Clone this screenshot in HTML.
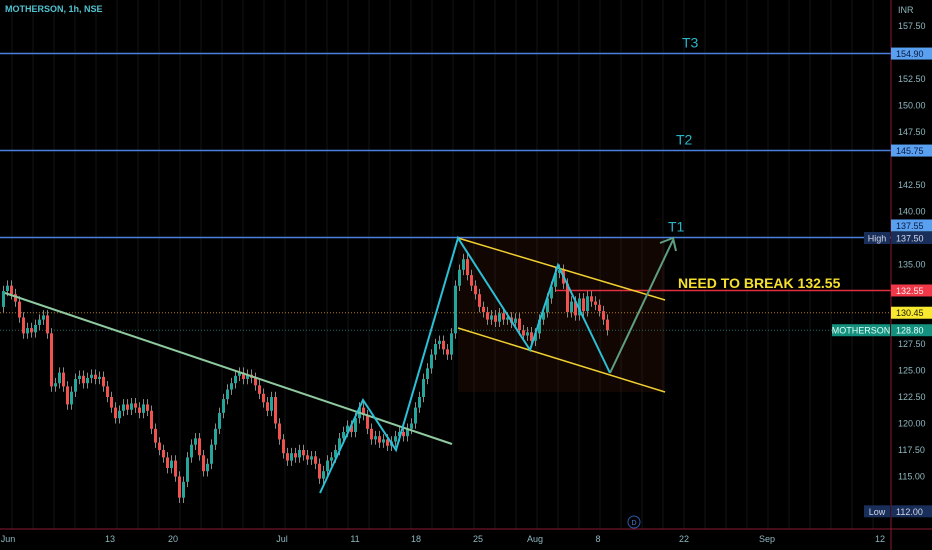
<!DOCTYPE html>
<html><head><meta charset="utf-8"><style>
html,body{margin:0;padding:0;background:#000;}
svg{display:block;font-family:"Liberation Sans",sans-serif;}
</style></head><body>
<svg id="chart" width="932" height="550" viewBox="0 0 932 550">
<rect width="932" height="550" fill="#000"/>
<g id="grid"></g>
<rect x="458" y="238" width="207" height="154" fill="rgba(70,25,10,0.25)"/>
<g id="levels"></g>
<g id="candles"></g>
<g id="drawings"></g>
<g id="axis"></g>
<g id="xaxis"></g>
<text x="5" y="12" font-size="9" font-weight="bold" fill="#4fc3d0">MOTHERSON, 1h, NSE</text>
<text x="898" y="13" font-size="9" fill="#8fb8c0">INR</text>
<circle cx="634" cy="522" r="6" fill="none" stroke="#2d5aa8" stroke-width="1"/>
<text x="634" y="525" font-size="7" fill="#4a80d0" text-anchor="middle">D</text>
</svg>
<script>
const closes=[132.5,133,132.2,131.5,130,128.5,129,128.6,129.3,129.8,130.2,128.5,123.5,123.8,124.8,123.5,121.8,123,124.2,124.5,123.8,124.3,124.6,124.2,124.4,123.5,122.5,121.5,120.5,121.2,121.8,121.3,121.9,121.5,121,121.8,121.2,119.5,118.2,117.5,116.8,115.8,116.5,115,113,114.5,116.8,118,118.6,117,115.5,116.2,118,119.5,121,122.3,123.2,123.8,124.5,124.8,124.2,124.6,124.3,123.6,122.8,122,121.2,122.5,120,118.5,117.2,116.5,117.2,116.8,117.5,117,116.6,116.9,116.2,114.8,115.5,116.5,116.8,117.5,118.6,119.2,119.8,119.2,120.5,121.5,120.8,119.5,118.5,118.8,118.2,118.5,117.9,118.3,118.8,119.2,118.8,119.5,120,121.5,122.5,124.2,125.2,126.5,127.5,127.8,127,126.5,128.5,133,134.5,135.5,134,133,132.2,131,130.5,129.8,130.2,129.6,130.4,129.8,130,129.5,129.9,128.8,128.3,128.6,127.8,128.5,129.8,130.5,131.8,132.9,134.2,134.5,133.2,130.5,131.5,130.2,131.8,130.6,132,131.5,131.2,130.6,129.8,128.8];
const priceTicks=["157.50","152.50","150.00","147.50","142.50","140.00","135.00","127.50","125.00","122.50","120.00","117.50","115.00"];
const timeLabels=["Jun","13","20","Jul","11","18","25","Aug","8","22","Sep","12"];
const timeX=[8,110,173,282,355,416,478,535,598,684,767,880];
const levelPrices=[154.90,145.75,137.55];
const levelNames=["T3","T2","T1"];
const NS="http://www.w3.org/2000/svg";
function y(p){return 26+(157.5-p)*10.6;}
function xi(i){return 2+i*4;}
function mk(tag,attrs,parent,txt){const e=document.createElementNS(NS,tag);for(const k in attrs)e.setAttribute(k,attrs[k]);if(txt!==undefined)e.textContent=txt;parent.appendChild(e);return e;}
const grid=document.getElementById('grid');
for(let gx=12;gx<891;gx+=21){const l=mk('line',{x1:gx,x2:gx,y1:0,y2:529,stroke:'#0f1418','stroke-width':1},grid);

}
const lv=document.getElementById('levels');
levelPrices.forEach((p,k)=>{const l=mk('line',{x1:0,x2:891,y1:y(p),y2:y(p),stroke:'#4a7fe0','stroke-width':1.5},lv);


const t=mk('text',{x:[682,676,668][k],y:y(p)-6,'font-size':14,fill:'#2bb5c8'},lv,levelNames[k]);

});
let e;
e=mk('line',{x1:0,x2:891,y1:y(130.45),y2:y(130.45),stroke:'#b07a20','stroke-width':1,'stroke-dasharray':'1 2'},lv);

e=mk('line',{x1:0,x2:891,y1:y(128.8),y2:y(128.8),stroke:'#1f6a60','stroke-width':1,'stroke-dasharray':'1 2'},lv);

e=mk('line',{x1:555,x2:891,y1:y(132.55),y2:y(132.55),stroke:'#e0303f','stroke-width':1.5},lv);

e=mk('line',{x1:0,x2:932,y1:529,y2:529,stroke:'#8a1a30','stroke-width':1},lv);

e=mk('line',{x1:891,x2:891,y1:0,y2:550,stroke:'#8a1a30','stroke-width':1},lv);

const cg=document.getElementById('candles');
closes.forEach((c,i)=>{const o=i?closes[i-1]:c-1.5;const up=c>=o;const col=up?'#26a69a':'#ef5350';
const hi=Math.max(o,c)+0.5,lo=Math.min(o,c)-0.5;const x=xi(i);
const w=mk('line',{x1:x+1.5,x2:x+1.5,y1:y(hi),y2:y(lo),stroke:'#8a8a8a','stroke-width':1},cg);


const b=mk('rect',{x:x,y:y(Math.max(o,c)),width:3,height:Math.max(1,Math.abs(y(o)-y(c))),fill:col},cg);

});
const dg=document.getElementById('drawings');
e=mk('line',{x1:5,y1:293,x2:452,y2:444,stroke:'#8fc9a0','stroke-width':2},dg);

e=mk('line',{x1:458,y1:238,x2:665,y2:300,stroke:'#f0d030','stroke-width':1.5},dg);

e=mk('line',{x1:458,y1:328,x2:665,y2:392,stroke:'#f0d030','stroke-width':1.5},dg);

e=mk('polyline',{points:'320,493 363,400 396,450 458,238 530,350 558,265 610,373',fill:'none',stroke:'#2bc0d6','stroke-width':2},dg);

e=mk('polyline',{points:'610,373 673,240',fill:'none',stroke:'#5f9f80','stroke-width':2},dg);

e=mk('polyline',{points:'660,243 673,238 676,251',fill:'none',stroke:'#5f9f80','stroke-width':2},dg);

e=mk('text',{x:678,y:288,'font-size':14,'font-weight':'bold',fill:'#f5e030'},dg,'NEED TO BREAK 132.55');

const ax=document.getElementById('axis');
priceTicks.forEach(t=>{const e2=mk('text',{x:898,y:y(+t)+3,'font-size':9,fill:'#8fb8c0'},ax,t);

});
function tag(p,txt,bg,fg,name,dy){const yy=y(p)+(dy||0);const r=mk('rect',{x:891,y:yy-6,width:41,height:12,fill:bg},ax);


const t=mk('text',{x:896,y:yy+3.5,'font-size':9,fill:fg},ax,txt);

}
tag(154.90,'154.90','#5aa0f0','#0a1a40','t3');
tag(145.75,'145.75','#5aa0f0','#0a1a40','t2');
tag(137.55,'137.55','#5aa0f0','#0a1a40','t1',-12);
tag(137.50,'137.50','#1a2e5a','#d0d8e8','high');
tag(132.55,'132.55','#f03848','#fff0f0','breakout');
tag(130.45,'130.45','#f8e830','#202000','dotted');
tag(128.80,'128.80','#14907e','#e0fff8','last');
tag(112.00,'112.00','#1a2e5a','#d0d8e8','low',3);
function side(px,w,txt,bg,fg,name,dy){const yy=y(px)+(dy||0);const r=mk('rect',{x:890-w,y:yy-6,width:w,height:12,fill:bg},ax);


const t=mk('text',{x:890-w/2,y:yy+3.5,'font-size':9,fill:fg,'text-anchor':'middle'},ax,txt);

}
side(137.5,26,'High','#1a2e5a','#d0d8e8','high-label');
side(128.8,58,'MOTHERSON','#14907e','#e0fff8','symbol-label');
side(112,26,'Low','#1a2e5a','#d0d8e8','low-label',3);
const xa=document.getElementById('xaxis');
timeLabels.forEach((t,k)=>{const e3=mk('text',{x:timeX[k],y:542,'font-size':9,fill:'#8fb8c0','text-anchor':'middle'},xa,t);

});
</script>
</body></html>
